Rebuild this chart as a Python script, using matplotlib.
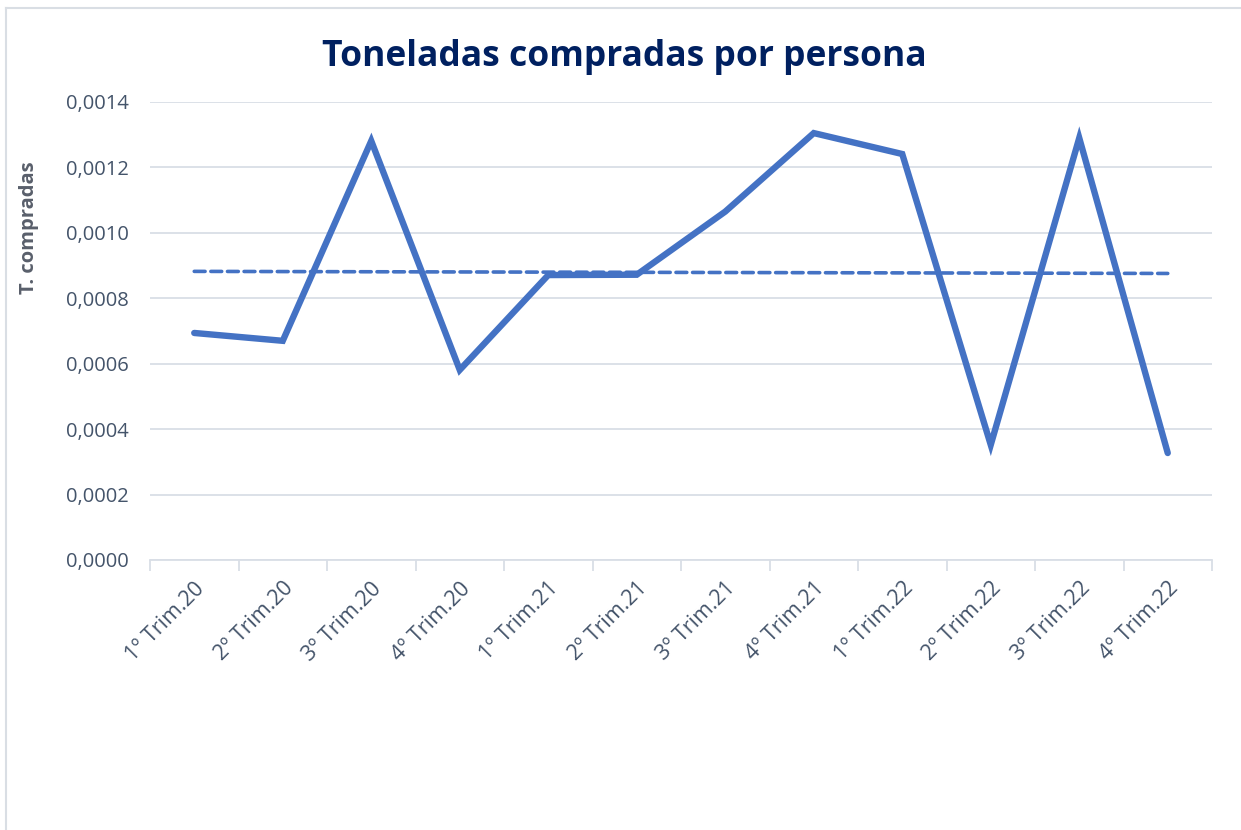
import matplotlib
matplotlib.use("Agg")
import matplotlib.pyplot as plt
from matplotlib.ticker import FuncFormatter
from matplotlib.lines import Line2D
import numpy as np

categories = ["1º Trim.20", "2º Trim.20", "3º Trim.20", "4º Trim.20",
              "1º Trim.21", "2º Trim.21", "3º Trim.21", "4º Trim.21",
              "1º Trim.22", "2º Trim.22", "3º Trim.22", "4º Trim.22"]
values = [0.000694, 0.000670, 0.001281, 0.000581,
          0.000871, 0.000872, 0.001065, 0.001305,
          0.001241, 0.000352, 0.001290, 0.000327]
y_ticks = [0.0000, 0.0002, 0.0004, 0.0006, 0.0008, 0.0010, 0.0012, 0.0014]

W, H = 1241, 830
fig = plt.figure(figsize=(W / 100, H / 100), dpi=100)
fig.patch.set_facecolor("white")

# chart area border (left and top visible)
border_col = "#D9DEE4"
fig.add_artist(Line2D([6 / W, 6 / W], [0, 1 - 8 / H], color=border_col, lw=1.5, transform=fig.transFigure))
fig.add_artist(Line2D([6 / W, 1], [1 - 8 / H, 1 - 8 / H], color=border_col, lw=1.5, transform=fig.transFigure))

ax = fig.add_axes([150 / W, 1 - 560 / H, (1212 - 150) / W, (560 - 102) / H])

x = np.arange(len(categories))
line_col = "#4472C4"
ax.plot(x, values, color=line_col, lw=4.6, solid_joinstyle="miter", solid_capstyle="round", zorder=3)

# linear trendline
coef = np.polyfit(x, values, 1)
trend = np.polyval(coef, x)
ax.plot(x, trend, color=line_col, lw=2.6, linestyle=(0, (3, 1.6)), dash_capstyle="round", zorder=2)

ax.set_xlim(-0.5, len(categories) - 0.5)
ax.set_ylim(0, 0.0014)
ax.set_yticks(y_ticks)
ax.yaxis.set_major_formatter(FuncFormatter(lambda v, p: f"{v:.4f}".replace(".", ",")))

ax.grid(axis="y", color="#D9DEE6", lw=1.3)
ax.set_axisbelow(True)
for s in ["top", "right", "left"]:
    ax.spines[s].set_visible(False)
ax.spines["bottom"].set_color("#D9DEE6")
ax.spines["bottom"].set_linewidth(1.3)

tick_col = "#44546A"
ax.set_xticks(np.arange(-0.5, len(categories), 1.0), minor=False)
ax.set_xticklabels([])
ax.tick_params(axis="x", which="major", length=8, color="#D9DEE6", width=1.3)
ax.set_xticks(x, minor=True)
ax.set_xticklabels(categories, minor=True, rotation=45, ha="right", va="top",
                   rotation_mode="anchor", fontsize=15.5, color=tick_col, family="Open Sans")
ax.tick_params(axis="x", which="minor", length=0, pad=13)
ax.tick_params(axis="y", length=0, pad=15, labelsize=14.5, labelcolor=tick_col)
for lab in ax.get_yticklabels():
    lab.set_family("Open Sans")

fig.text(29 / W, 1 - 228 / H, "T. compradas", rotation=90, ha="center", va="center",
         fontsize=14.5, fontweight="bold", color="#595F6B", family="Open Sans")

fig.text(624 / W, 1 - 57 / H, "Toneladas compradas por persona", ha="center", va="center",
         fontsize=25.5, fontweight="bold", color="#002060", family="Open Sans")

fig.savefig("out.png", dpi=100)
